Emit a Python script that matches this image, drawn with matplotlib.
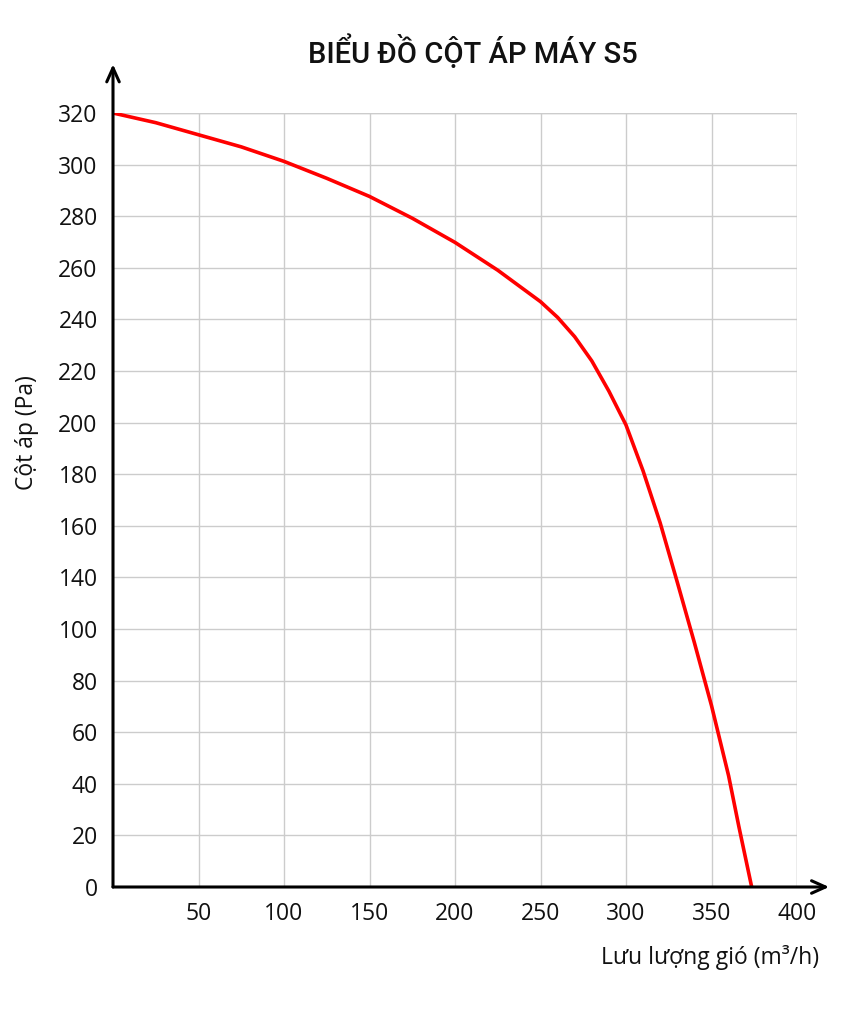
import numpy as np
import matplotlib
matplotlib.use('Agg')
import matplotlib.pyplot as plt

# duong cong cot ap doc tu hinh (truc y tuyen tinh 0-320)
luu_luong = [0, 25, 50, 75, 100, 125, 150, 175, 200, 225, 250, 260, 270, 280,
             290, 300, 310, 320, 330, 340, 350, 360, 366, 373.5]
cot_ap = [320, 316, 311, 306, 300, 293, 285.5, 276.5, 266.5, 255, 242, 235.5, 227.5, 217.5,
          205, 191, 172, 150.5, 126, 101, 75, 46, 25, 0]

x_ticks = [50, 100, 150, 200, 250, 300, 350, 400]
y_tick_labels = ['0', '20', '40', '60', '80', '100', '140', '160', '180',
                 '200', '220', '240', '260', '280', '300', '320']

plt.rcParams['font.family'] = ['Open Sans', 'DejaVu Sans']

fig = plt.figure(figsize=(8.52, 10.24), dpi=100)
ax = fig.add_axes([113 / 852, 137 / 1024, 684 / 852, 774 / 1024])

ax.plot(luu_luong, cot_ap, color='#ff0000', lw=2.6, solid_joinstyle='round', zorder=3)

ax.set_xlim(0, 400)
ax.set_ylim(0, 320)
ax.set_xticks(x_ticks)
ax.set_xticklabels([str(v) for v in x_ticks])
ax.set_yticks(np.linspace(0, 320, len(y_tick_labels)))
ax.set_yticklabels(y_tick_labels)
ax.tick_params(axis='both', length=0, labelsize=16.5, colors='#111111')
ax.tick_params(axis='y', pad=11)
ax.tick_params(axis='x', pad=11)

ax.grid(True, color='#cccccc', lw=1)
ax.set_axisbelow(True)
for s in ['top', 'right', 'left', 'bottom']:
    ax.spines[s].set_visible(False)
# gridlines at the outer edges
ax.axhline(320, color='#cccccc', lw=1, zorder=1)
ax.axvline(400, color='#cccccc', lw=1, zorder=1)

# truc co mui ten
ax.annotate('', xy=(1.047, 0), xytext=(0, 0), xycoords='axes fraction',
            arrowprops=dict(arrowstyle='->,head_length=1.0,head_width=0.45', lw=2.2, color='black',
                            shrinkA=0, shrinkB=0), annotation_clip=False)
ax.annotate('', xy=(0, 1.063), xytext=(0, 0), xycoords='axes fraction',
            arrowprops=dict(arrowstyle='->,head_length=1.0,head_width=0.45', lw=2.2, color='black',
                            shrinkA=0, shrinkB=0), annotation_clip=False)

fig.text(473 / 852, 1 - 52 / 1024, 'BIỂU ĐỒ CỘT ÁP MÁY S5', ha='center', va='center',
         fontsize=21, family=['Roboto', 'DejaVu Sans'], fontweight='medium', color='#111111')
fig.text(27 / 852, 1 - 433 / 1024, 'Cột áp (Pa)', rotation=90, ha='center', va='center',
         fontsize=16.5, color='#111111')
fig.text(710 / 852, 1 - 957 / 1024, 'Lưu lượng gió (m³/h)', ha='center', va='center',
         fontsize=16.5, color='#111111')

fig.savefig('out.png', dpi=100, facecolor='white')
